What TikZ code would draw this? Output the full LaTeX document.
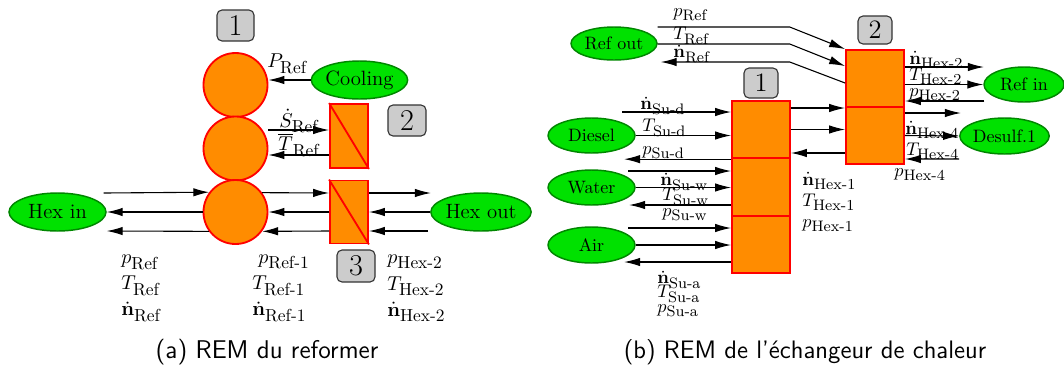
\documentclass[tikz,border=0pt]{standalone}
\usepackage{amsmath}
\usetikzlibrary{shapes.geometric,arrows.meta,calc}
\def\u{0.546pt}
\definecolor{remorange}{RGB}{255,140,0}
\definecolor{remgreen}{RGB}{0,225,0}
\definecolor{remdkgreen}{RGB}{0,135,0}
\definecolor{boxgray}{RGB}{204,204,204}
\newcommand{\ql}[2]{$#1_{\mbox{\fontsize{9.5}{10}\selectfont #2}}$}
\newcommand{\qr}[2]{$#1_{\mbox{\fontsize{8.3}{9}\selectfont #2}}$}
\newcommand{\ndot}{\dot{\mathbf{n}}}
\tikzset{
 arr/.style={line width=0.6pt,-{Latex[length=8.7pt,width=4.6pt]}},
 numbox/.style={draw=black!80,fill=boxgray,rounded corners=5*\u,line width=0.6pt,inner sep=0pt},
 ell/.style={ellipse,draw=remdkgreen,fill=remgreen,line width=0.8pt,inner sep=0pt},
 circ/.style={circle,draw=red,fill=remorange,line width=1pt,inner sep=0pt,minimum size=64*\u},
 blk/.style={rectangle,draw=red,fill=remorange,line width=1pt,inner sep=0pt},
 lf/.style={font=\fontsize{11.3}{14}\selectfont},
 lab/.style={anchor=west,inner sep=0pt,lf},
 rf/.style={font=\fontsize{9.8}{11}\selectfont},
 rlab/.style={anchor=west,inner sep=0pt,font=\fontsize{9.6}{11}\selectfont},
 diag/.style={red,line width=1pt},
}
\begin{document}
\begin{tikzpicture}[x=0.546pt,y=-0.546pt]
\useasboundingbox (0,0) rectangle (1064,365);
% ---------------- (a) ----------------
\node[numbox,font=\fontsize{16.5}{18}\selectfont,minimum width=37*\u,minimum height=31*\u] (b1) at (235.5,25.5) {1};
\node[circ] (c1) at (235.5,85) {};
\node[circ] (c2) at (235.5,148.5) {};
\node[circ] (c3) at (235.5,212) {};
\node[ell,lf,minimum width=95*\u,minimum height=38*\u] (cool) at (359.5,80) {Cooling};
\node[blk,minimum width=38*\u,minimum height=64*\u] (r2) at (349,136) {};
\draw[diag] (r2.north west) -- (r2.south east);
\node[numbox,font=\fontsize{16.5}{18}\selectfont,minimum width=38*\u,minimum height=31*\u] (b2) at (407,120.5) {2};
\node[blk,minimum width=38*\u,minimum height=63*\u] (r3) at (349,212) {};
\draw[diag] (r3.north west) -- (r3.south east);
\node[numbox,font=\fontsize{16.5}{18}\selectfont,minimum width=38*\u,minimum height=32*\u] (b3) at (356,266) {3};
\node[ell,lf,minimum width=97*\u,minimum height=38*\u] (hexin) at (57.5,212) {Hex in};
\node[ell,lf,minimum width=94*\u,minimum height=38*\u] (hexout) at (481,212) {Hex out};

\draw[arr] (cool.west) -- (cool.west -| c1.east);
\node[lab] (lP) at (267,64) {\ql{P}{Ref}};
\draw[arr] ($(c2.east)+(0,-18.5)$) -- ($(c2.east -| r2.west)+(0,-18.5)$);
\node[lf] (lS) at (299,121) {\ql{\dot{S}}{Ref}};
\draw[arr] ($(r2.west)+(0,19)$) -- ($(r2.west -| c2.east)+(0,19)$);
\node[lf] (lT) at (299,145) {\ql{\overline{T}}{Ref}};

\draw[arr] ($(hexin.east)+(-3,-19)$) -- (c3.143.6);
\draw[arr] (c3.west) -- (hexin.east);
\draw[arr] (c3.216.4) -- ($(hexin.east)+(0,19)$);
\draw[arr] (c3.36.4) -- ($(r3.west)+(0,-19)$);
\draw[arr] (r3.west) -- (c3.east);
\draw[arr] ($(r3.west)+(0,19)$) -- (c3.-36.4);
\draw[arr] ($(r3.east)+(0,-19)$) -- ++(62,0);
\draw[arr] (hexout.west) -- (r3.east);
\draw[arr] ($(hexout.west)+(-2,19)$) -- ($(r3.east)+(0,19)$);

\node[lab] (a1) at (121,262.5) {\ql{p}{Ref}};
\node[lab] (a2) at (121,286) {\ql{T}{Ref}};
\node[lab] (a3) at (121,312) {\ql{\ndot}{Ref}};
\node[lab] (a4) at (258,262) {\ql{p}{Ref-1}};
\node[lab] (a5) at (252,286) {\ql{T}{Ref-1}};
\node[lab] (a6) at (252,312) {\ql{\ndot}{Ref-1}};
\node[lab] (a7) at (387,262) {\ql{p}{Hex-2}};
\node[lab] (a8) at (387,286) {\ql{T}{Hex-2}};
\node[lab] (a9) at (387,312) {\ql{\ndot}{Hex-2}};
\node[font=\sffamily\fontsize{14}{16}\selectfont] (capa) at (267,352) {(a) REM du reformer};

% ---------------- (b) ----------------
\node[ell,rf,minimum width=86*\u,minimum height=33*\u] (refout) at (614,43.5) {Ref out};
\node[numbox,font=\fontsize{14.5}{16}\selectfont,minimum width=34*\u,minimum height=28*\u] (b2r) at (875,30) {2};
\node[numbox,font=\fontsize{14.5}{16}\selectfont,minimum width=34*\u,minimum height=30*\u] (b1r) at (761,83) {1};
\node[blk,minimum width=58*\u,minimum height=57*\u] (R2a) at (875,78.5) {};
\node[blk,minimum width=58*\u,minimum height=57*\u] (R2b) at (875,135.5) {};
\node[blk,minimum width=58*\u,minimum height=57.5*\u] (R1a) at (761,129.5) {};
\node[blk,minimum width=58*\u,minimum height=57.5*\u] (R1b) at (761,187) {};
\node[blk,minimum width=58*\u,minimum height=57.5*\u] (R1c) at (761,244.5) {};
\node[ell,rf,minimum width=87*\u,minimum height=35*\u] (diesel) at (591.5,135.5) {Diesel};
\node[ell,rf,minimum width=87*\u,minimum height=35*\u] (water) at (591.5,187.5) {Water};
\node[ell,rf,minimum width=87*\u,minimum height=36*\u] (air) at (591.5,245) {Air};
\node[ell,rf,minimum width=80*\u,minimum height=35*\u] (refin) at (1024,84.5) {Ref in};
\node[ell,rf,minimum width=85*\u,minimum height=36*\u] (desulf) at (1004.5,136) {Desulf.1};

\draw[arr] ($(refout.east)+(0,-16.5)$) -- ++(132,0) -- (R2a.north west);
\draw[arr] ($(refout.east)+(0,0.5)$) -- ++(132,0) -- ($(R2a.north west)+(0,17)$);
\draw[arr] ($(R2a.west)+(0,4.5)$) -- ($(refout.east)+(132,18.5)$) -- ($(refout.east)+(3,18.5)$);

\draw[arr] ($(R1a.west)+(-109,-17.5)$) -- ($(R1a.west)+(0,-17.5)$);
\draw[arr] (diesel.east) -- (diesel.east -| R1a.west);
\draw[arr] (R1a.south west) -- ++(-107,0);
\draw[arr] ($(R1b.west)+(-103,-16)$) -- ($(R1b.west)+(0,-16)$);
\draw[arr] (water.east) -- (water.east -| R1b.west);
\draw[arr] ($(R1b.west)+(0,18)$) -- ++(-102,0);
\draw[arr] ($(R1c.west)+(-103,-16.5)$) -- ($(R1c.west)+(0,-16.5)$);
\draw[arr] (air.east) -- (air.east -| R1c.west);
\draw[arr] ($(R1c.west)+(0,17.5)$) -- ++(-107,0);

\draw[arr] ($(R1a.east)+(0,-21.5)$) -- ($(R1a.east -| R2b.west)+(0,-21.5)$);
\draw[arr] (R1a.east) -- (R1a.east -| R2b.west);
\draw[arr] ($(R2b.west)+(0,17.5)$) -- ($(R2b.west -| R1a.east)+(0,17.5)$);

\draw[arr] ($(R2a.east)+(0,-11.5)$) -- ++(79,0);
\draw[arr] ($(R2a.east)+(0,6)$) -- (refin.west);
\draw[arr] ($(refin.west)+(1,16.5)$) -- ($(R2a.east)+(0,22.5)$);
\draw[arr] ($(R2b.east)+(0,-22.5)$) -- ++(56,0);
\draw[arr] (R2b.east) -- (desulf.west);
\draw[arr] ($(desulf.west)+(0,23)$) -- ($(R2b.east)+(0,23.5)$);

\node[rlab] (l1) at (673,15) {\qr{p}{Ref}};
\node[rlab] (l2) at (673,36) {\qr{T}{Ref}};
\node[rlab] (l3) at (673,54) {\qr{\ndot}{Ref}};
\node[rlab] (l4) at (640,106) {\qr{\ndot}{Su-d}};
\node[rlab] (l5) at (642,128) {\qr{T}{Su-d}};
\node[rlab] (l6) at (642,152.5) {\qr{p}{Su-d}};
\node[rlab] (l7) at (660,182) {\qr{\ndot}{Su-w}};
\node[rlab] (l8) at (662,197) {\qr{T}{Su-w}};
\node[rlab] (l9) at (662,215) {\qr{p}{Su-w}};
\node[rlab] (l10) at (657,280) {\qr{\ndot}{Su-a}};
\node[rlab] (l11) at (657,294) {\qr{T}{Su-a}};
\node[rlab] (l12) at (657,311) {\qr{p}{Su-a}};
\node[rlab] (l13) at (802,181) {\qr{\ndot}{Hex-1}};
\node[rlab] (l14) at (802,202) {\qr{T}{Hex-1}};
\node[rlab] (l15) at (802,226) {\qr{p}{Hex-1}};
\node[rlab] (l16) at (909,60) {\qr{\ndot}{Hex-2}};
\node[rlab] (l17) at (909,76) {\qr{T}{Hex-2}};
\node[rlab] (l18) at (909,95) {\qr{p}{Hex-2}};
\node[rlab] (l19) at (905,130) {\qr{\ndot}{Hex-4}};
\node[rlab] (l20) at (906,151) {\qr{T}{Hex-4}};
\node[rlab] (l21) at (894,175) {\qr{p}{Hex-4}};
\node[font=\sffamily\fontsize{13.8}{16}\selectfont] (capb) at (805,352) {(b) REM de l’échangeur de chaleur};
\end{tikzpicture}
\end{document}
